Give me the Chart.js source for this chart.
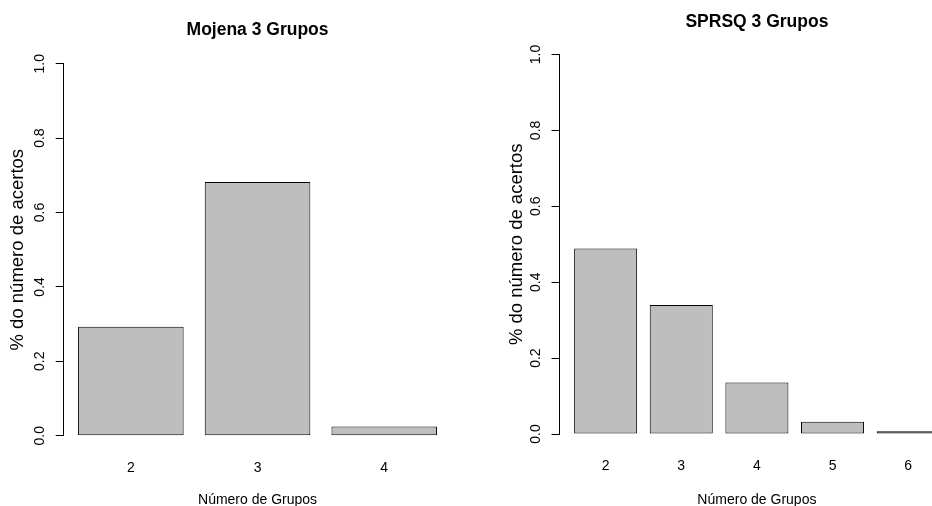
<!DOCTYPE html>
<html>
<head>
<meta charset="utf-8">
<script src="https://cdn.jsdelivr.net/npm/chart.js@4"></script>
<style>
  html, body { margin: 0; padding: 0; background: #fff; overflow: hidden; }
  #quadro { position: relative; width: 932px; height: 506px; overflow: hidden; }
  .painel { position: absolute; top: 0; height: 520px; }
  #painelMojena { left: 0; width: 466px; }
  #painelSprsq { left: 466px; width: 514px; }
</style>
</head>
<body>
<div id="quadro">
  <div class="painel" id="painelMojena"><canvas id="graficoMojena"></canvas></div>
  <div class="painel" id="painelSprsq"><canvas id="graficoSprsq"></canvas></div>
</div>
<script>
// proporção de acertos por número de grupos
const gruposMojena = [2, 3, 4];
const acertosMojena = [0.293, 0.682, 0.025];
const gruposSprsq = [2, 3, 4, 5, 6];
const acertosSprsq = [0.489, 0.340, 0.136, 0.032, 0.007];
const yTicks = [0, 0.2, 0.4, 0.6, 0.8, 1.0];

Chart.defaults.font.family = "'Liberation Sans', Arial, sans-serif";
Chart.defaults.color = "#000";

// barras estilo barplot do R: largura 1, espaço 0.2
function barplot(id, titulo, grupos, acertos, m) {
  const ctx = document.getElementById(id).getContext("2d");
  return new Chart(ctx, {
    type: "bar",
    data: {
      labels: grupos,
      datasets: [{
        data: acertos,
        backgroundColor: "#bebebe",
        borderColor: "#000",
        borderWidth: 1,
        borderSkipped: false,
        barPercentage: 1 / 1.2,
        categoryPercentage: 1
      }]
    },
    options: {
      responsive: true,
      maintainAspectRatio: false,
      animation: false,
      layout: { padding: { left: 0, top: 0, right: m.direita, bottom: 0 } },
      plugins: {
        legend: { display: false },
        tooltip: { enabled: false },
        title: {
          display: true,
          text: titulo,
          fullSize: false,
          font: { size: 17.5, weight: "bold" },
          padding: { top: m.tituloTopo, bottom: m.tituloBase }
        }
      },
      scales: {
        x: {
          type: "linear",
          offset: false,
          min: grupos[0] - m.folga,
          max: grupos[grupos.length - 1] + m.folga,
          afterBuildTicks: s => { s.ticks = grupos.map(v => ({ value: v })); },
          afterFit: s => { s.height = m.alturaX; },
          grid: { display: false, drawTicks: false },
          border: { display: false },
          ticks: { font: { size: 14 }, padding: 24 },
          title: {
            display: true,
            text: "Número de Grupos",
            font: { size: 14 },
            padding: { top: 0, bottom: 11.6 }
          }
        },
        y: {
          min: 0,
          max: 1,
          afterBuildTicks: s => { s.ticks = yTicks.map(v => ({ value: v })); },
          afterFit: s => { s.width = m.larguraY; },
          grid: { drawOnChartArea: false, color: "#000", tickLength: 8 },
          border: { color: "#000" },
          ticks: {
            font: { size: 14 },
            minRotation: 90,
            maxRotation: 90,
            crossAlign: "center",
            padding: 6,
            callback: v => v.toFixed(1)
          },
          title: {
            display: true,
            text: "% do número de acertos",
            font: { size: 18.5 },
            padding: { top: m.tituloY, bottom: 0 }
          }
        }
      }
    }
  });
}

barplot("graficoMojena", "Mojena 3 Grupos", gruposMojena, acertosMojena, {
  folga: 0.53, direita: 14.6, tituloTopo: 19.8, tituloBase: 22.9,
  alturaX: 84.3, larguraY: 63.7, tituloY: 6.9
});

barplot("graficoSprsq", "SPRSQ 3 Grupos", gruposSprsq, acertosSprsq, {
  folga: 0.61, direita: 25.7, tituloTopo: 11.2, tituloBase: 22.3,
  alturaX: 86, larguraY: 93.5, tituloY: 39.9
});
</script>
</body>
</html>
